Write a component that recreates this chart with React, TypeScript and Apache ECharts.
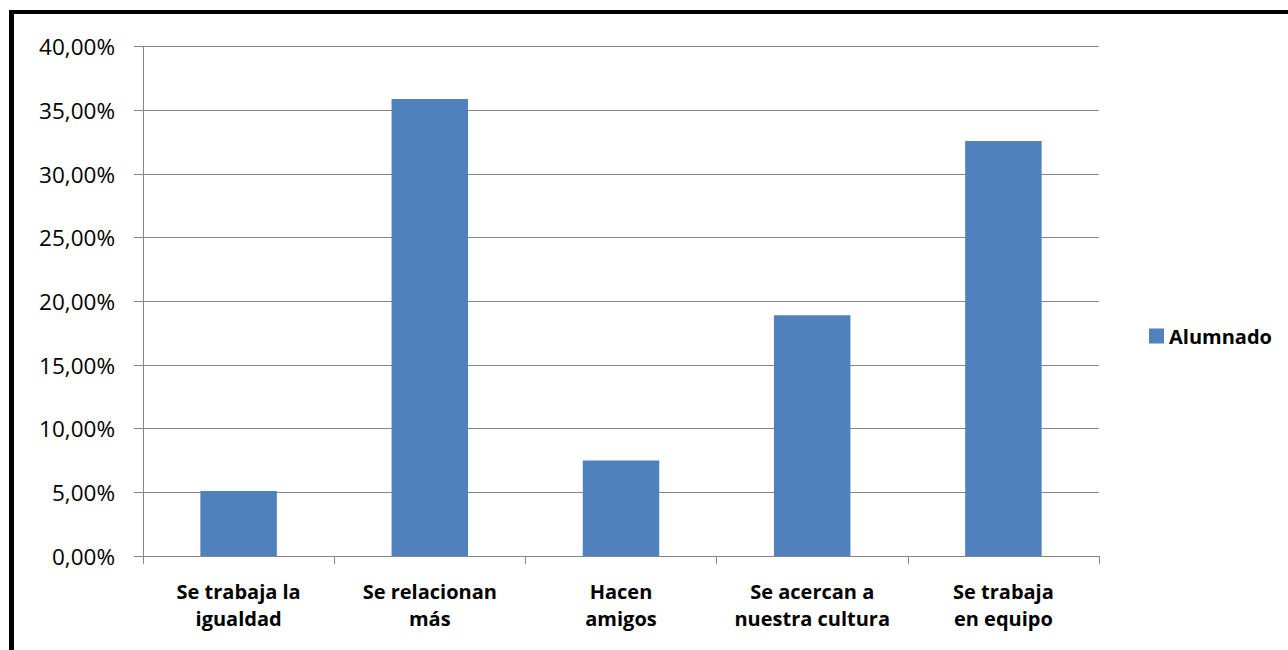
import React, { useEffect, useRef } from "react";
import * as echarts from "echarts";

const categories = [
  "Se trabaja la\nigualdad",
  "Se relacionan\nmás",
  "Hacen\namigos",
  "Se acercan a\nnuestra cultura",
  "Se trabaja\nen equipo",
];
const seriesName = "Alumnado";
const values = [5.1, 35.9, 7.5, 18.9, 32.6];
const yMin = 0;
const yMax = 40;
const yInterval = 5;

export default function App() {
  const ref = useRef<HTMLDivElement>(null);
  useEffect(() => {
    if (!ref.current) return;
    const chart = echarts.init(ref.current, null, { renderer: "svg" });
    const font = "'Open Sans', 'Liberation Sans', sans-serif";
    chart.setOption({
      animation: false,
      backgroundColor: "#ffffff",
      textStyle: { fontFamily: font },
      graphic: [
        { type: "rect", shape: { x: 9, y: 10, width: 1279, height: 4 }, style: { fill: "#000" } },
        { type: "rect", shape: { x: 9, y: 10, width: 5, height: 640 }, style: { fill: "#000" } },
      ],
      grid: { left: 143, top: 46.7, right: 189, bottom: 94, containLabel: false },
      legend: {
        left: 1144,
        top: 321,
        orient: "vertical",
        itemWidth: 15,
        itemHeight: 15,
        itemGap: 8,
        icon: "rect",
        textStyle: { fontFamily: font, fontWeight: "bold", fontSize: 20, color: "#000" },
        data: [seriesName],
      },
      xAxis: {
        type: "category",
        data: categories,
        axisLine: { show: true, lineStyle: { color: "#868686", width: 1 } },
        axisTick: { show: true, alignWithLabel: false, length: 8, lineStyle: { color: "#868686" } },
        axisLabel: {
          interval: 0,
          margin: 22,
          fontFamily: font,
          fontWeight: "bold",
          fontSize: 20,
          lineHeight: 27,
          color: "#000",
        },
      },
      yAxis: {
        type: "value",
        min: yMin,
        max: yMax,
        interval: yInterval,
        axisLine: { show: true, lineStyle: { color: "#868686", width: 1 } },
        axisTick: { show: true, length: 9, inside: false, lineStyle: { color: "#868686" } },
        splitLine: { show: true, lineStyle: { color: "#868686", width: 1 } },
        axisLabel: {
          margin: 28,
          fontFamily: font,
          fontSize: 22.5,
          color: "#000",
          formatter: (v: number) => v.toFixed(2).replace(".", ",") + "%",
        },
      },
      series: [
        {
          name: seriesName,
          type: "bar",
          data: values,
          barWidth: "40%",
          itemStyle: { color: "#4F81BD" },
        },
      ],
    });
    return () => chart.dispose();
  }, []);
  return (
    <div
      ref={ref}
      style={{ position: "fixed", left: 0, top: 0, width: 1288, height: 650 }}
    />
  );
}
